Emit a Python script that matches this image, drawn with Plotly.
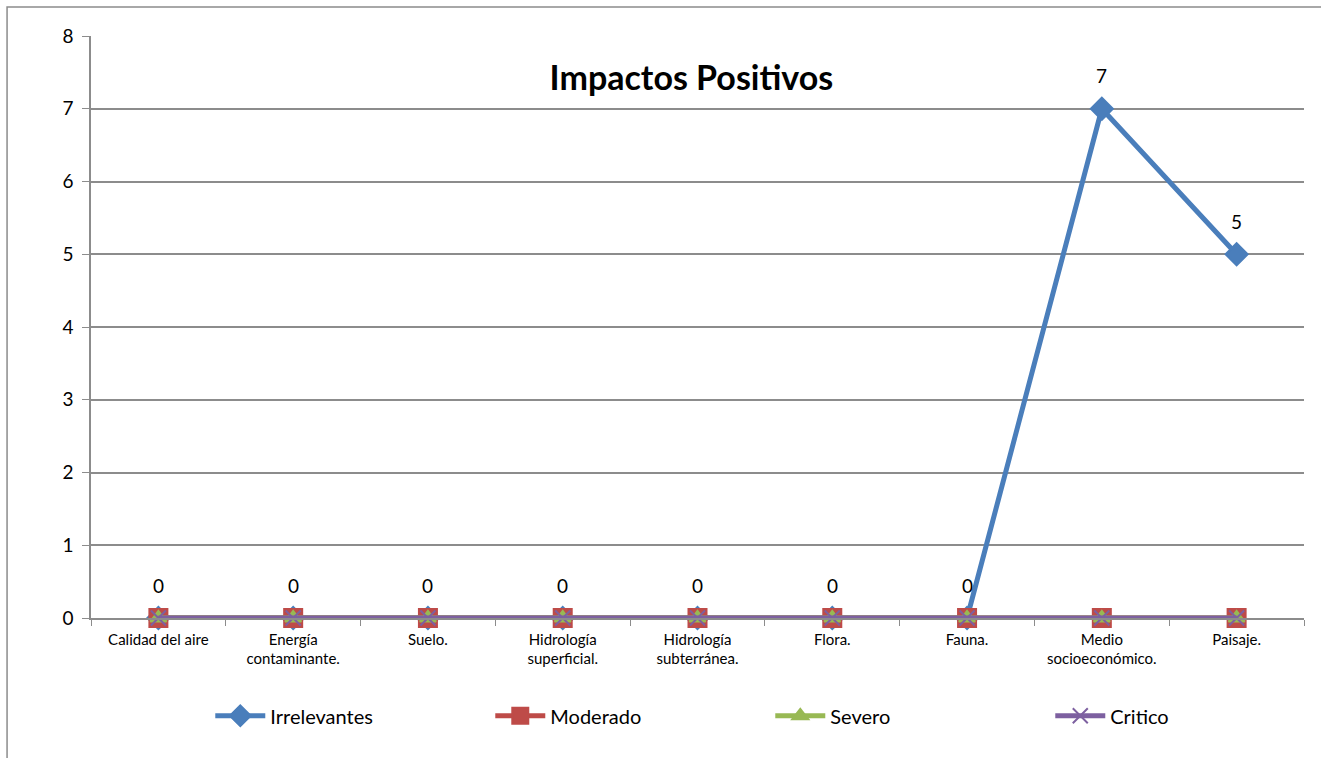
import plotly.graph_objects as go

categorias = [
    "Calidad del aire",
    "Energía<br>contaminante.",
    "Suelo.",
    "Hidrología<br>superficial.",
    "Hidrología<br>subterránea.",
    "Flora.",
    "Fauna.",
    "Medio<br>socioeconómico.",
    "Paisaje.",
]
irrelevantes = [0, 0, 0, 0, 0, 0, 0, 7, 5]
moderado = [0, 0, 0, 0, 0, 0, 0, 0, 0]
severo = [0, 0, 0, 0, 0, 0, 0, 0, 0]
critico = [0, 0, 0, 0, 0, 0, 0, 0, 0]

FONT = "Lato"
GRID = "#8c8c8c"

series = [
    ("Irrelevantes", irrelevantes, "#4a7ebb", "diamond", 17),
    ("Moderado", moderado, "#be4b48", "square", 18),
    ("Severo", severo, "#98b954", "triangle-up", 14),
    ("Critico", critico, "#7d60a0", "x-thin", 15),
]

fig = go.Figure()
for nombre, valores, color, simbolo, tam in series:
    fig.add_trace(go.Scatter(
        x=categorias, y=valores, name=nombre, mode="lines+markers",
        cliponaxis=False,
        line=dict(color=color, width=5),
        marker=dict(symbol=simbolo, size=tam, color=color,
                    line=dict(color=color, width=2)),
    ))

# value labels for the Irrelevantes series
for cat, val in zip(categorias, irrelevantes):
    fig.add_annotation(x=cat, y=val, text=str(val), showarrow=False,
                       yshift=33, font=dict(size=19, color="#000000", family=FONT))

# chart frame
fig.add_shape(type="rect", xref="paper", yref="paper",
              x0=-0.0692, x1=1.08, y0=-0.3, y1=1.0498,
              line=dict(color="#8c8c8c", width=1.5), layer="below")

fig.update_layout(
    width=1321, height=758,
    margin=dict(l=91, r=17, t=36, b=140, autoexpand=False),
    paper_bgcolor="white", plot_bgcolor="white",
    font=dict(family=FONT, color="#000000"),
    title=dict(text="<b>Impactos Positivos</b>", x=0.495, xref="paper",
               xanchor="center", y=1 - 78 / 758, yanchor="middle",
               font=dict(size=34, family=FONT, color="#000000")),
    showlegend=True,
    legend=dict(orientation="h", x=0.56, xanchor="center", y=-0.168, yanchor="middle",
                entrywidth=215, entrywidthmode="pixels",
                font=dict(size=20, family=FONT), itemwidth=50, tracegroupgap=0),
    xaxis=dict(
        type="category", showgrid=False, showline=True, linecolor=GRID, linewidth=1.5,
        ticks="outside", ticklen=6, tickcolor=GRID, tickson="boundaries",
        ticklabelstandoff=7,
        tickfont=dict(size=15, family=FONT), range=[-0.5, 8.5],
    ),
    yaxis=dict(
        range=[0, 8], dtick=1, showgrid=True, gridcolor=GRID, gridwidth=1.5,
        showline=True, linecolor=GRID, linewidth=1.5, ticks="outside", ticklen=7,
        tickcolor=GRID, tickfont=dict(size=19, family=FONT), zeroline=False,
        ticklabelstandoff=5,
    ),
)

fig.write_html("out.html")
